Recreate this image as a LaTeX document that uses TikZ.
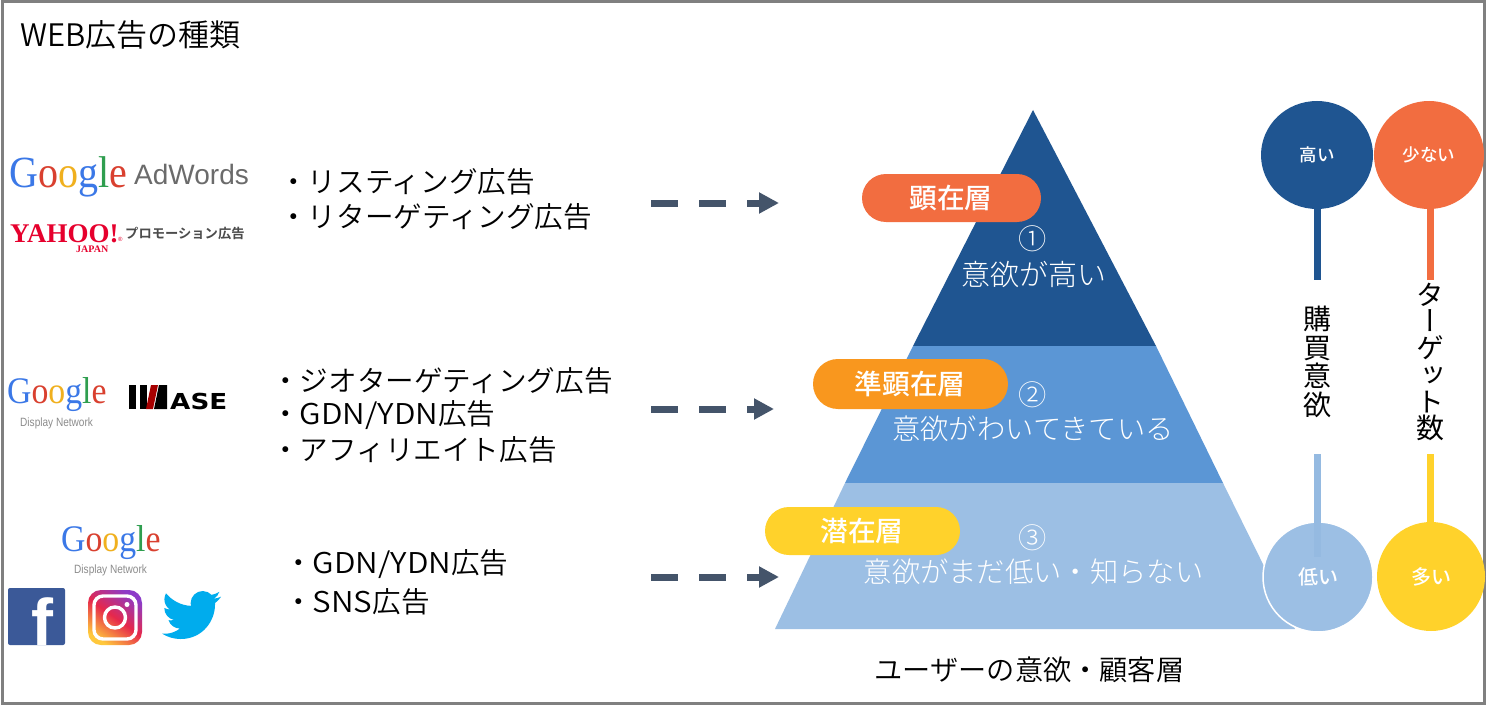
\documentclass[tikz,border=0pt]{standalone}
\usepackage{fontspec}
\usetikzlibrary{arrows.meta,shapes.geometric,svg.path,shadings}
\setmainfont{Noto Sans CJK JP DemiLight}[BoldFont={Noto Sans CJK JP Bold}]
\newfontfamily\cjkl{Noto Sans CJK JP Light}
\newfontfamily\cjkm{Noto Sans CJK JP Medium}
\newfontfamily\cjkv[RawFeature={+vert}]{Noto Sans CJK JP}
\newfontfamily\lser{Liberation Serif}
\newfontfamily\lsan{Liberation Sans}
\newfontfamily\dvs{DejaVu Sans}
\definecolor{dkblue}{HTML}{1F5591}
\definecolor{mdblue}{HTML}{5B96D5}
\definecolor{ltblue}{HTML}{9CBFE4}
\definecolor{ltbluedk}{HTML}{95BAE1}
\definecolor{orng}{HTML}{F26D40}
\definecolor{ambr}{HTML}{F9971E}
\definecolor{yell}{HTML}{FFD22B}
\definecolor{arrowc}{HTML}{44546A}
\definecolor{gblue}{HTML}{3B78E7}
\definecolor{gred}{HTML}{D9402F}
\definecolor{gyel}{HTML}{F0B01E}
\definecolor{ggrn}{HTML}{2F9E4F}
\definecolor{fbblue}{HTML}{3B5998}
\definecolor{twblue}{HTML}{00ACED}
\definecolor{yhred}{HTML}{E6002D}
\definecolor{igy}{HTML}{FFC83C}
\definecolor{igr}{HTML}{E6284B}
\definecolor{igp}{HTML}{8C3CC8}
\newcommand{\fs}[1]{\fontsize{#1}{#1}\selectfont}
\newcommand{\googleword}{\scalebox{.9}[1]{{\color{gblue}G}{\color{gred}o}{\color{gyel}o}{\color{gblue}g}{\color{ggrn}l}{\color{gred}e}}}
\newcommand{\latw}[1]{\scalebox{1.1}[1]{#1}}
\tikzset{
  txt/.style={inner sep=0pt,text=black,font=\fs{28.6}},
  wtxt/.style={inner sep=0pt,text=white,font=\cjkl\fs{28.3}},
  pilltxt/.style={inner sep=0pt,text=white,font=\cjkm\fs{27.7}},
  pillbox/.style={rounded corners=24pt},
  bubble/.style={ellipse,inner sep=0pt,text=white},
  stem/.style={line width=6.6pt},
  flow/.style={draw=arrowc,line width=7pt,dash pattern=on 27pt off 21pt,-{Triangle[length=20pt,width=20pt,fill=arrowc]}},
  logo/.style={inner sep=0pt,anchor=base west},
  netlabel/.style={logo,font=\lsan\fs{12},text=black!45},
}
\begin{document}
\begin{tikzpicture}[x=1pt,y=-1pt]
\useasboundingbox (0,0) rectangle (1486,706);
\fill[white] (0,0) rectangle (1486,706);
\draw[draw=black!50,line width=3pt] (2,2) rectangle (1484,703);
\node[txt,anchor=west,font=\fs{31}] (title) at (20,35) {WEB広告の種類};

% logos row 1
\node[logo,font=\lser\fs{44.5}] (g1) at (9,187) {\googleword};
\node[logo,font=\lsan\fs{28},text=black!58] (adw) at (134,184) {AdWords};
\node[logo,font=\lser\bfseries\fs{27},text=yhred,text depth=0pt] (yh) at (10,242) {YAHOO!};
\node[logo,font=\lsan\fs{6},text=yhred] (yhr) at (118,241) {®};
\node[logo,font=\lser\bfseries\fs{10},text=yhred,text height=7pt,text depth=0pt] (yhj) at (76,252.5) {JAPAN};
\node[inner sep=0pt,anchor=west,font=\bfseries\fs{13.3},text=black!70] (yhp) at (125,233) {プロモーション広告};

% logos row 2
\node[logo,font=\lser\fs{37.5}] (g2) at (7,403) {\googleword};
\node[netlabel] (dn2) at (20,426) {\scalebox{.84}[1]{Display Network}};
\fill[black] (129,385) rectangle (136,409);
\fill[black] (140,385) rectangle (147,409);
\fill[red!65!black] (151,385) -- (158,385) -- (153,409) -- (146,409) -- cycle;
\fill[black] (159,385) -- (167,385) -- (167,409) -- (154,409) -- cycle;
\node[logo,font=\dvs\bfseries\fs{22},text=black,xscale=1.19,transform shape] (ase) at (170,409) {ASE};

% logos row 3
\node[logo,font=\lser\fs{37.5}] (g3) at (61,551) {\googleword};
\node[netlabel] (dn3) at (74,573) {\scalebox{.84}[1]{Display Network}};
\fill[fbblue,rounded corners=2pt] (8,588) rectangle (65,645);
\node[logo,font=\lsan\bfseries\fs{66},text=white] (fb) at (31,645) {f};
\shade[rounded corners=13pt,shading=axis,bottom color=igy,top color=igp,middle color=igr,shading angle=-35] (88,590) rectangle (142,645);
\draw[white,line width=3.4pt,rounded corners=9pt] (94,596) rectangle (136,639);
\draw[white,line width=3.4pt] (115,617.5) circle[radius=10.5pt];
\fill[white] (127,604.5) circle[radius=2.5pt];
\begin{scope}[shift={(162,585.5)},xscale=2.46,yscale=-2.46]
\fill[twblue] svg "M23.953 4.57 C23.07 4.96 22.12 5.22 21.128 5.345 C22.14 4.74 22.92 3.78 23.291 2.622 C22.34 3.177 21.286 3.581 20.164 3.806 C19.27 2.85 17.99 2.25 16.57 2.25 C13.85 2.25 11.65 4.45 11.65 7.17 C11.65 7.56 11.69 7.93 11.78 8.288 C7.69 8.095 4.067 6.13 1.64 3.162 C1.22 3.89 0.974 4.73 0.974 5.637 C0.974 7.347 1.844 8.85 3.162 9.733 C2.36 9.71 1.6 9.49 0.934 9.117 L0.934 9.177 C0.934 11.56 2.63 13.55 4.88 14.004 C4.47 14.12 4.03 14.18 3.58 14.18 C3.26 14.18 2.96 14.15 2.668 14.089 C3.29 16.04 5.11 17.47 7.272 17.506 C5.58 18.83 3.45 19.611 1.17 19.611 C0.78 19.611 0.391 19.588 0 19.544 C2.18 20.94 4.78 21.753 7.557 21.753 C16.61 21.753 21.555 14.257 21.555 7.768 C21.555 7.558 21.555 7.348 21.54 7.138 C22.5 6.44 23.33 5.58 24 4.59 Z";
\end{scope}

% lists
\node[txt,anchor=west] (l11) at (279,182) {・リスティング広告};
\node[txt,anchor=west] (l12) at (279,217) {・リターゲティング広告};
\node[txt,anchor=west] (l21) at (271,381) {・ジオターゲティング広告};
\node[txt,anchor=west] (l22) at (271,415) {・\latw{GDN/YDN}広告};
\node[txt,anchor=west] (l23) at (271,450) {・アフィリエイト広告};
\node[txt,anchor=west] (l31) at (284,564) {・\latw{GDN/YDN}広告};
\node[txt,anchor=west] (l32) at (284,602) {・\latw{SNS}広告};

% arrows
\coordinate (a1s) at (651,203); \coordinate (a1e) at (779,203);
\coordinate (a2s) at (651,409); \coordinate (a2e) at (774,409);
\coordinate (a3s) at (651,577); \coordinate (a3e) at (779,577);
\draw[flow] (a1s) -- (a1e);
\draw[flow] (a2s) -- (a2e);
\draw[flow] (a3s) -- (a3e);

% pyramid
\fill[dkblue] (1033,110) -- (1156,346) -- (913,346) -- cycle;
\fill[mdblue] (913,346) -- (1156,346) -- (1223,483) -- (845,483) -- cycle;
\fill[ltblue] (845,483) -- (1223,483) -- (1295,629) -- (775,629) -- cycle;
\node[wtxt] (n1) at (1033,239) {①};
\node[wtxt,font=\cjkl\fs{29}] (t1) at (1033.5,274) {意欲が高い};
\node[wtxt] (n2) at (1033,395) {②};
\node[wtxt] (t2) at (1033,429) {意欲がわいてきている};
\node[wtxt] (n3) at (1033,538) {③};
\node[wtxt] (t3) at (1033.5,572) {意欲がまだ低い・知らない};
\node[txt,font=\fs{28.2}] (cap) at (1029.5,670) {ユーザーの意欲・顧客層};

% pills
\fill[orng,pillbox] (862,174) rectangle (1041,222);
\node[pilltxt] (p1) at (951,198) {顕在層};
\fill[ambr,pillbox,rounded corners=25pt] (813,359) rectangle (1008,409);
\node[pilltxt] (p2) at (910,384) {準顕在層};
\fill[yell,pillbox] (765,507) rectangle (960,555);
\node[pilltxt] (p3) at (862,531) {潜在層};

% scales
\node[bubble,fill=dkblue,minimum width=112pt,minimum height=108pt,font=\cjkm\fs{17.5}] (c1) at (1317,155) {高い};
\node[bubble,fill=orng,minimum width=110pt,minimum height=108pt,font=\cjkm\fs{17.5}] (c2) at (1429,155) {少ない};
\node[bubble,fill=ltblue,draw=white,line width=1.5pt,minimum width=110pt,minimum height=110pt,font=\cjkm\fs{20}] (c3) at (1318,577) {低い};
\node[bubble,fill=yell,minimum width=108pt,minimum height=109pt,font=\cjkm\fs{20}] (c4) at (1431,576.5) {多い};
\coordinate (e1) at (1317.3,280); \coordinate (e2) at (1430.3,280);
\coordinate (e3) at (1317.3,454); \coordinate (e3b) at (1317.3,557); \coordinate (e4) at (1430.3,454);
\draw[stem,dkblue] (c1.south -| e1) -- (e1);
\draw[stem,orng] (c2.south -| e2) -- (e2);
\draw[stem,ltbluedk] (e3) -- (e3b);
\draw[stem,yell] (e4) -- (c4.north -| e4);
\node[inner sep=0pt,align=center,font=\cjkv\fontsize{28}{28.5}\selectfont] (v1) at (1317,362) {購\\買\\意\\欲};
\node[inner sep=0pt,align=center,font=\cjkv\fontsize{28}{26.7}\selectfont] (v2) at (1430,362) {タ\\ー\\ゲ\\ッ\\ト\\数};
\end{tikzpicture}
\end{document}
